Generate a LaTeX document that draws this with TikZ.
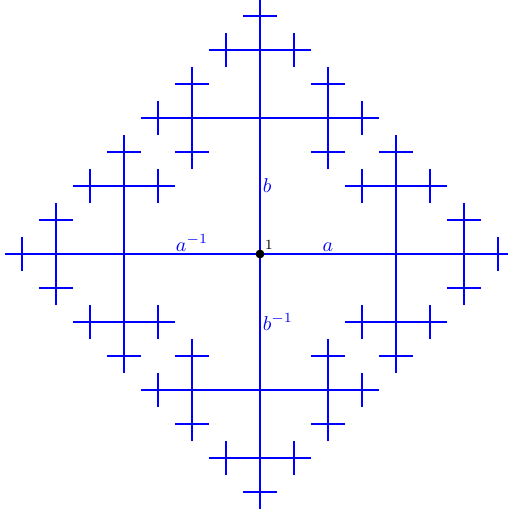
\documentclass[tikz,border=0pt]{standalone}
\tikzset{
  cgedge/.style={draw=blue, line width=0.8pt},
  lab/.style={text=blue, inner sep=1.2pt},
  dotnode/.style={circle, fill=black, inner sep=0pt, minimum size=4.4pt}
}
\gdef\cgedges{}
\newcommand\cgbranch[3]{%
  \ifnum#3<5\relax
    \foreach \dd in {0,1,2,3}{%
      \pgfmathtruncatemacro\cginv{mod(\dd+2,4)}%
      \ifnum\cginv=#2\relax\else
        \pgfmathsetmacro\cglen{2^(4-#3)}%
        \pgfmathtruncatemacro\cgnext{#3+1}%
        \path (#1) ++(\dd*90:\cglen) coordinate (#1\dd);
        \xdef\cgedges{\cgedges (#1) -- (#1\dd)}%
        \edef\cgnextcall{\noexpand\cgbranch{#1\dd}{\dd}{\cgnext}}%
        \cgnextcall
      \fi}%
  \fi}
\begin{document}
\begin{tikzpicture}[x=8.5pt, y=8.5pt]
  \fill[white] (-130pt,-127.5pt) rectangle (124pt,127pt);
  \useasboundingbox (-130pt,-127.5pt) rectangle (124pt,127pt);
  \coordinate (c) at (0,0);
  \cgbranch{c}{9}{1}
  \edef\cgdraw{\noexpand\draw[cgedge] \cgedges;}%
  \cgdraw
  \path (c) -- (c0) node[midway, above, lab] (la) {$a$};
  \path (c) -- (c2) node[midway, above, lab] (lai) {$a^{-1}$};
  \path (c) -- (c1) node[midway, right, lab] (lb) {$b$};
  \path (c) -- (c3) node[midway, right, lab] (lbi) {$b^{-1}$};
  \node[dotnode, label={[inner sep=0.6pt, font=\scriptsize]above right:$1$}] (one) at (c) {};
\end{tikzpicture}
\end{document}
